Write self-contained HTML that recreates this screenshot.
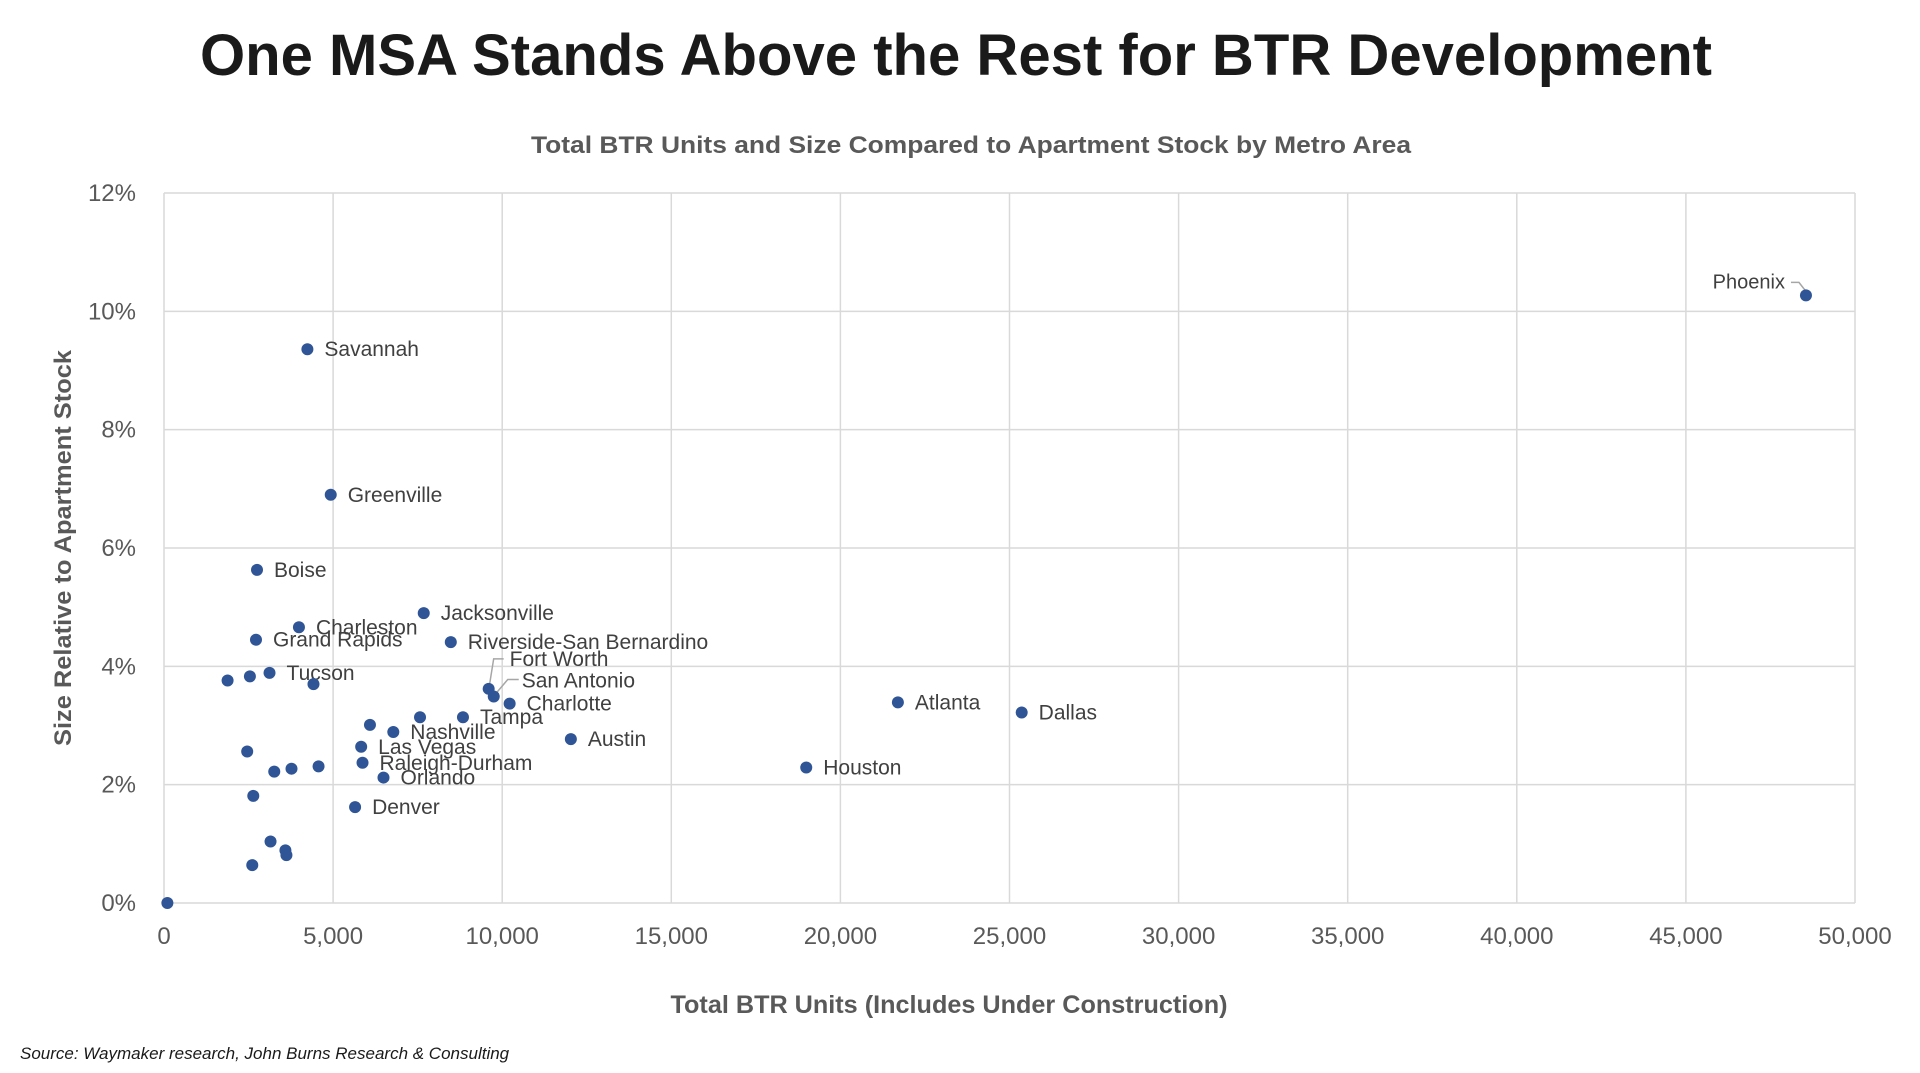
<!DOCTYPE html>
<html><head><meta charset="utf-8"><style>
html,body{margin:0;padding:0;background:#fff;}
svg{display:block;font-family:"Liberation Sans","DejaVu Sans",sans-serif;}
</style></head><body>
<svg id="chart" width="1920" height="1073" viewBox="0 0 1920 1073">
<text x="956" y="75" text-anchor="middle" font-size="58" font-weight="bold" fill="#1a1a1a" textLength="1512" lengthAdjust="spacingAndGlyphs">One MSA Stands Above the Rest for BTR Development</text>
<text x="971" y="153" text-anchor="middle" font-size="24" font-weight="bold" fill="#595959" textLength="880" lengthAdjust="spacingAndGlyphs">Total BTR Units and Size Compared to Apartment Stock by Metro Area</text>
<g id="grid"></g>
<g id="marks"></g>
<text x="949" y="1013" text-anchor="middle" font-size="25" font-weight="bold" fill="#595959" textLength="557" lengthAdjust="spacingAndGlyphs">Total BTR Units (Includes Under Construction)</text>
<text transform="translate(71,548) rotate(-90)" text-anchor="middle" font-size="24" font-weight="bold" fill="#595959" textLength="396" lengthAdjust="spacingAndGlyphs">Size Relative to Apartment Stock</text>
<text x="20" y="1059" font-size="17" font-style="italic" fill="#1a1a1a">Source: Waymaker research, John Burns Research &amp; Consulting</text>
</svg>
<script>
const metros = ["Phoenix","Savannah","Greenville","Boise","Jacksonville","Charleston","Grand Rapids","Riverside-San Bernardino","Tucson","","","","Fort Worth","San Antonio","Charlotte","Atlanta","Dallas","Tampa","","","Nashville","Austin","Las Vegas","","Raleigh-Durham","Houston","","","","Orlando","","Denver","","","","",""];
const units = [48550,4240,4930,2750,7680,3990,2720,8480,3120,1880,2540,4420,9600,9750,10220,21700,25360,8840,7570,6090,6780,12030,5830,2460,5870,18990,4570,3770,3260,6490,2640,5650,3150,3590,3620,2610,100];
const sizePct = [10.27,9.36,6.9,5.63,4.9,4.66,4.45,4.41,3.89,3.76,3.83,3.70,3.62,3.49,3.37,3.39,3.22,3.14,3.14,3.01,2.89,2.77,2.64,2.56,2.37,2.29,2.31,2.27,2.22,2.12,1.81,1.62,1.04,0.89,0.81,0.64,0];
const xTicks = [0,5000,10000,15000,20000,25000,30000,35000,40000,45000,50000];
const yTicks = [0,2,4,6,8,10,12];

const NS="http://www.w3.org/2000/svg";
const X0=164,X1=1855,Y0=903,Y1=193;
function xs(v){return X0+(v-0)/(50000)*(X1-X0);}
function ys(v){return Y0-(v/12)*(Y0-Y1);}
function mk(tag,attrs,parent){const e=document.createElementNS(NS,tag);for(const k in attrs)e.setAttribute(k,attrs[k]);parent.appendChild(e);return e;}
const grid=document.getElementById('grid'), marks=document.getElementById('marks');
xTicks.forEach(t=>{
  const l=mk('line',{x1:xs(t),x2:xs(t),y1:Y1,y2:Y0,stroke:'#d9d9d9','stroke-width':1.5},grid);
  
  
  const tx=mk('text',{x:xs(t),y:Y0+41,'text-anchor':'middle','font-size':24,fill:'#595959'},grid);
  tx.textContent=t.toLocaleString('en-US');
  
  
});
yTicks.forEach(t=>{
  const l=mk('line',{x1:X0,x2:X1,y1:ys(t),y2:ys(t),stroke:'#d9d9d9','stroke-width':1.5},grid);
  
  
  const tx=mk('text',{x:X0-28,y:ys(t)+8,'text-anchor':'end','font-size':24,fill:'#595959'},grid);
  tx.textContent=t+'%';
  
  
});
const special={"Phoenix":[-21,-14,'end'],"Fort Worth":[21,-30,'start'],"San Antonio":[28,-16,'start']};
units.forEach((u,i)=>{
  const cx=xs(u),cy=ys(sizePct[i]);
  const name=metros[i];
  if(name && special[name]){
    let d;
    if(name==="Phoenix") d=`M${cx-15},${cy-13} L${cx-7},${cy-13} L${cx},${cy-4}`;
    else if(name==="Fort Worth") d=`M${cx+15},${cy-30} L${cx+5},${cy-30} L${cx+1},${cy-5}`;
    else d=`M${cx+25},${cy-17} L${cx+14},${cy-17} L${cx+3},${cy-4}`;
    const p=mk('path',{d:d,fill:'none',stroke:'#a6a6a6','stroke-width':1.5},marks);
    
    
  }
  const c=mk('circle',{cx:cx,cy:cy,r:6,fill:'#2F5597'},marks);
  
  
  if(name){
    const s=special[name]||[17,0,'start'];
    const t=mk('text',{x:cx+s[0],y:cy+s[1]+7,'text-anchor':s[2],'font-size':name==="Phoenix"?20:21,fill:'#404040'},marks);
    t.textContent=name;
    
    
  }
});
</script>
</body></html>
